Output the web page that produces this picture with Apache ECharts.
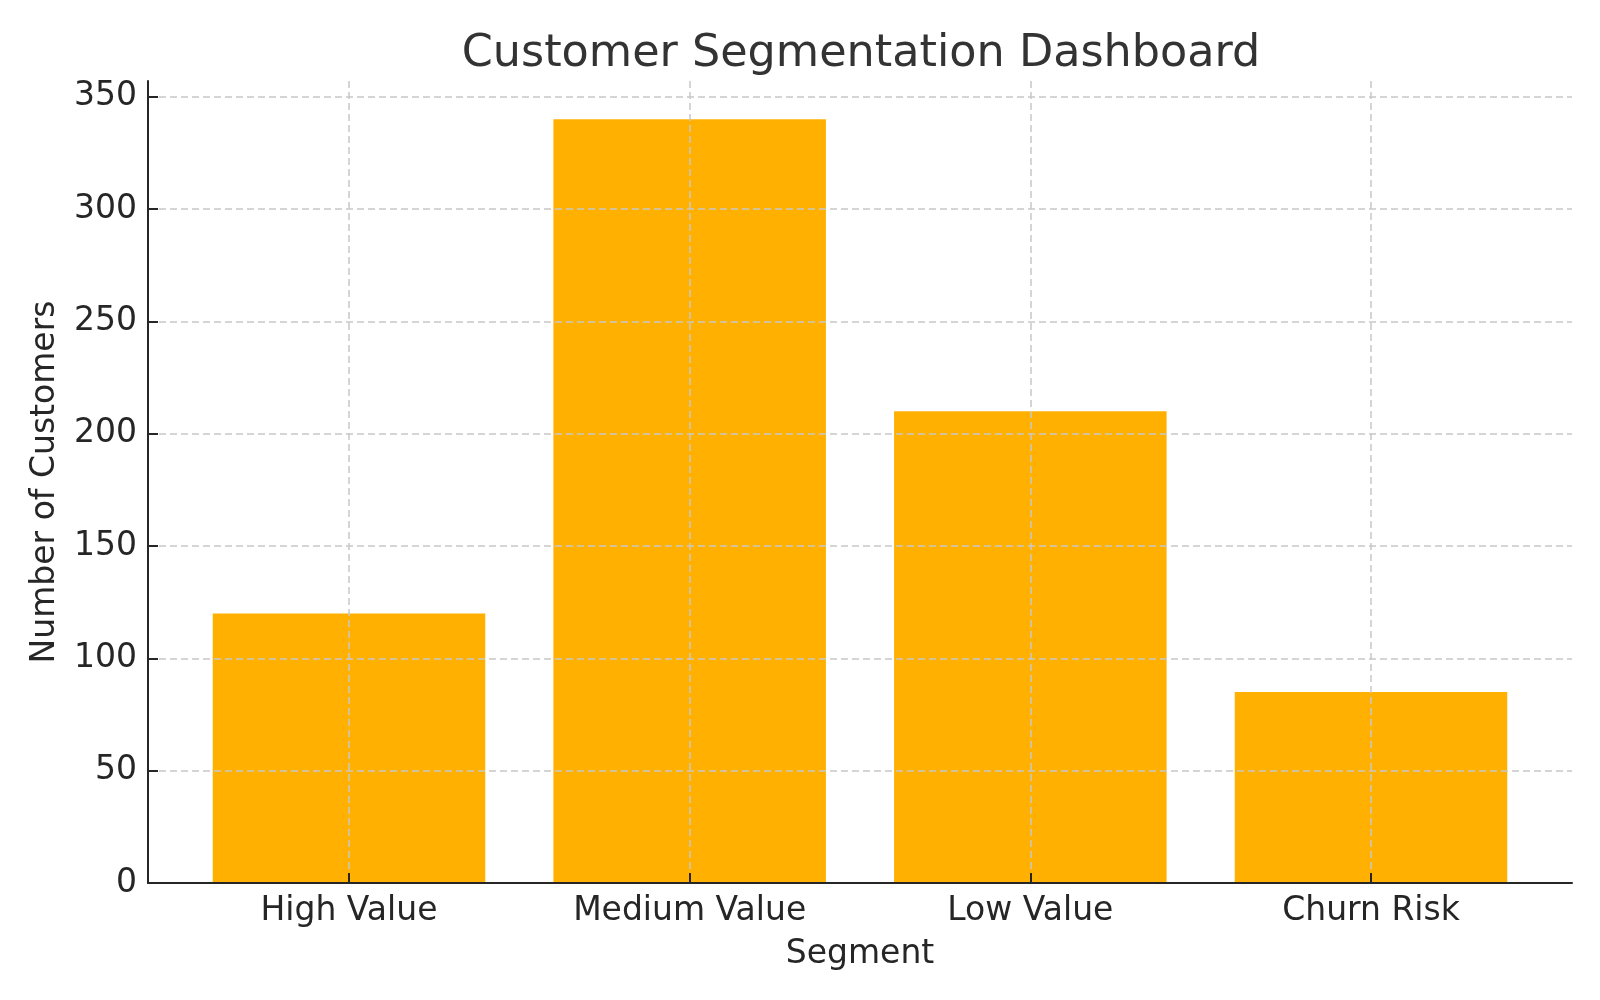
<!DOCTYPE html>
<html>
<head>
<meta charset="utf-8">
<script src="https://cdn.jsdelivr.net/npm/echarts@6/dist/echarts.min.js"></script>
<style>
html,body{margin:0;padding:0;background:#fff;}
#chart{width:1600px;height:1000px;}
</style>
</head>
<body>
<div id="chart"></div>
<script>
const categories = ['High Value', 'Medium Value', 'Low Value', 'Churn Risk'];
const customers = [120, 340, 210, 85];
const yTicks = [0, 50, 100, 150, 200, 250, 300, 350];
const xTicks = [0, 1, 2, 3];

const FONT = 'DejaVu Sans';
const TXT = '#262626';
const chart = echarts.init(document.getElementById('chart'), null, {renderer: 'canvas'});
chart.setOption({
  backgroundColor: '#ffffff',
  animation: false,
  title: {
    text: 'Customer Segmentation Dashboard',
    left: 856,
    textAlign: 'center',
    top: 22,
    textStyle: {fontFamily: FONT, fontSize: 44.5, fontWeight: 'normal', color: '#333333', lineHeight: 54}
  },
  grid: {left: 148, right: 28, top: 81, bottom: 117, containLabel: false},
  xAxis: {
    type: 'value',
    min: -0.59,
    max: 3.59,
    z: 5,
    name: 'Segment',
    nameLocation: 'middle',
    nameGap: 55,
    nameTextStyle: {fontFamily: FONT, fontSize: 33, color: TXT},
    axisLine: {show: true, onZero: false, lineStyle: {color: TXT, width: 2}},
    axisTick: {show: true, inside: true, length: 10, customValues: xTicks, lineStyle: {color: TXT, width: 2}},
    axisLabel: {
      customValues: xTicks,
      margin: 12,
      fontFamily: FONT, fontSize: 33, color: TXT,
      formatter: v => categories[Math.round(v)]
    },
    splitLine: {show: true, lineStyle: {color: '#c8c8c8', width: 1.5, type: [7, 4]}}
  },
  yAxis: {
    type: 'value',
    min: 0,
    max: 357,
    z: 5,
    name: 'Number of Customers',
    nameLocation: 'middle',
    nameGap: 86,
    nameTextStyle: {fontFamily: FONT, fontSize: 33, color: TXT},
    axisLine: {show: true, onZero: false, lineStyle: {color: TXT, width: 2}},
    axisTick: {show: true, inside: true, length: 10, customValues: yTicks, lineStyle: {color: TXT, width: 2}},
    axisLabel: {customValues: yTicks, margin: 11, padding: [7, 0, 0, 0], fontFamily: FONT, fontSize: 33, color: TXT},
    splitLine: {show: true, lineStyle: {color: '#c8c8c8', width: 1.5, type: [7, 4]}}
  },
  series: [{
    type: 'bar',
    data: categories.map((c, i) => [i, customers[i]]),
    barWidth: '80%',
    itemStyle: {color: '#FFB000'},
    z: 2
  }]
});
</script>
</body>
</html>
